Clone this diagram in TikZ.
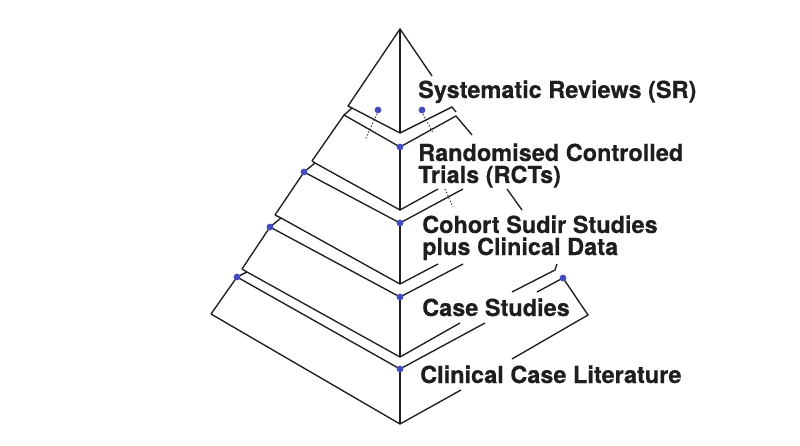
\documentclass[tikz,border=0pt]{standalone}
\usepackage{fontspec}
\setmainfont{TeX Gyre Heros}[BoldFeatures={FakeBold=0.35}]
\definecolor{ink}{HTML}{1E1E1E}
\definecolor{dotblue}{RGB}{70,74,192}
\begin{document}
\begin{tikzpicture}[x=1pt,y=-1pt,
  edge/.style={draw=ink,line width=1.35pt,line join=miter},
  dotl/.style={draw=ink,line width=0.9pt,dash pattern=on 1.2pt off 2pt},
  bluedot/.style={fill=dotblue},
  tiertext/.style={anchor=base west,inner sep=0pt,text=ink,font=\bfseries\fontsize{23.5}{22}\selectfont}]
\useasboundingbox (0,0) rectangle (800,446);
\fill[white] (0,0) rectangle (800,446);

% named vertices
\coordinate (apex) at (400,29);
\coordinate (c1) at (400,133);
\coordinate (t2) at (400,147);
\coordinate (c2) at (400,210);
\coordinate (t3) at (400,223);
\coordinate (c3) at (400,284);
\coordinate (t4) at (400,297);
\coordinate (c4) at (400,357);
\coordinate (t5) at (400,369);
\coordinate (c5) at (400,424);

% tier 1
\draw[edge] (432,76) -- (apex) -- (348,106) -- (352,108) -- (c1) -- (452,107) -- (456,112);
\draw[edge] (apex) -- (c1);
\draw[edge] (352,108) -- (344,115);
% tier 2
\draw[edge] (312,161) -- (344,115) -- (t2) -- (456,116) -- (472,135);
\draw[edge] (t2) -- (c2);
\draw[edge] (312,161) -- (315,163) -- (c2) -- (438,189);
\draw[edge] (315,163) -- (304,172);
% tier 3
\draw[edge] (275,215) -- (304,172) -- (t3) -- (463,189);
\draw[edge] (t3) -- (c3);
\draw[edge] (275,215) -- (281,218) -- (c3) -- (438,264);
\draw[edge] (281,218) -- (270,227);
\draw[edge] (507,189) -- (522,210);
% tier 4
\draw[edge] (242,269) -- (270,227) -- (t4) -- (463,264);
\draw[edge] (t4) -- (c4);
\draw[edge] (242,269) -- (247,272) -- (c4) -- (460,323);
\draw[edge] (247,272) -- (237,277);
\draw[edge] (512,292) -- (555,270) -- (557,264);
% tier 5
\draw[edge] (211,314) -- (237,277) -- (t5) -- (485,323);
\draw[edge] (t5) -- (c5);
\draw[edge] (211,314) -- (c5) -- (461,390);
\draw[edge] (537,292) -- (563,278) -- (588,315) -- (512,359);

% dotted leaders
\draw[dotl] (377,114) -- (365,140);
\draw[dotl] (423,114) -- (433,133);
\draw[dotl] (445,189) -- (453,207);

% dots
\foreach \p in {(378,110),(422,110),(400,147),(304,172),(400,223),(270,227),(400,297),(237,277),(563,278),(400,369)}
  \fill[bluedot] \p circle (3.4);

% texts
\node[tiertext] (sr) at (418,98) {Systematic Reviews (SR)};
\node[tiertext] (rcta) at (418,161) {Randomised Controlled};
\node[tiertext] (rctb) at (418,183) {Trials (RCTs)};
\node[tiertext] (coha) at (422,233) {Cohort Sudir Studies};
\node[tiertext] (cohb) at (422,255) {plus Clinical Data};
\node[tiertext] (cs) at (422,316) {Case Studies};
\node[tiertext] (ccl) at (420,383) {Clinical Case Literature};
\end{tikzpicture}
\end{document}
